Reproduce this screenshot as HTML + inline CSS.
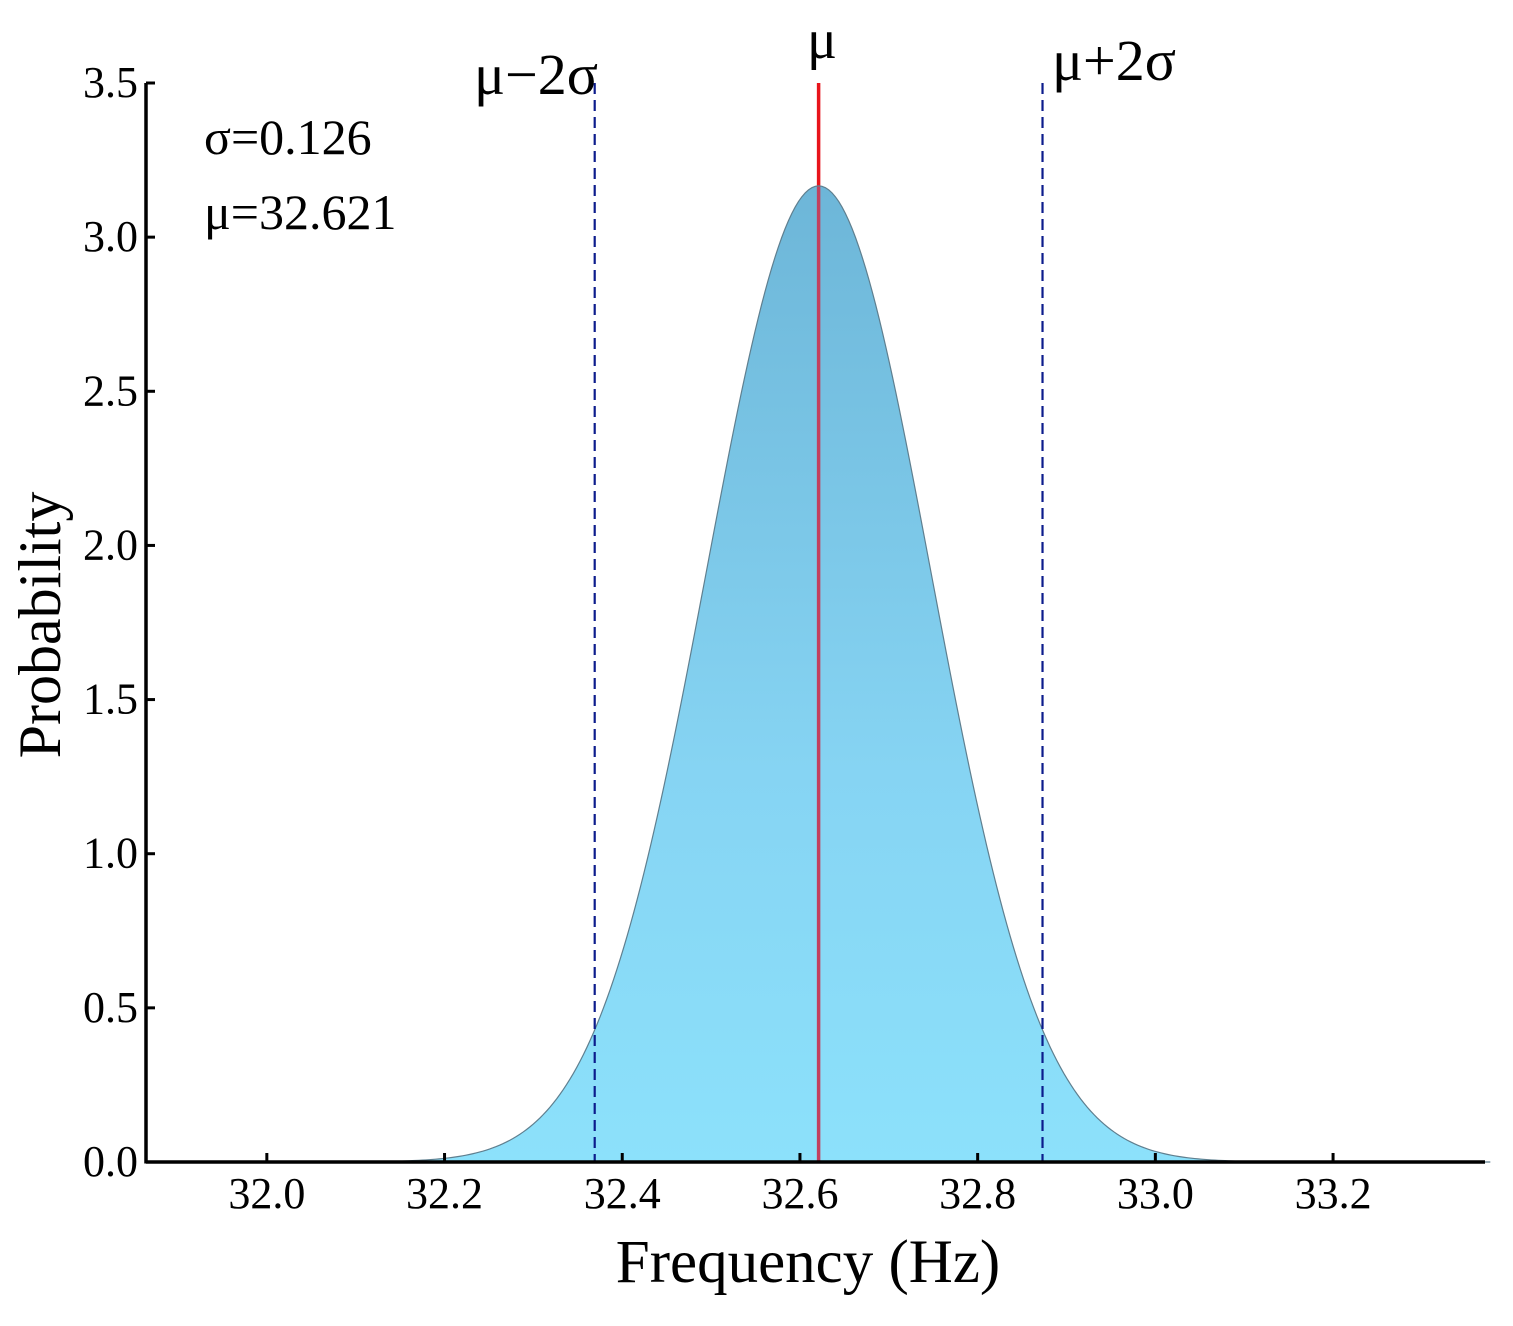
<!DOCTYPE html>
<html><head><meta charset="utf-8"><style>
html,body{margin:0;padding:0;background:#fff;}
svg text{font-family:"Liberation Serif",serif;fill:#000;}
</style></head><body>
<svg id="chart" width="1513" height="1321" viewBox="0 0 1513 1321" xmlns="http://www.w3.org/2000/svg">
<defs>
<linearGradient id="fillGrad" x1="0" y1="0" x2="0" y2="1">
<stop offset="0" stop-color="#6db6d8"/>
<stop offset="0.6" stop-color="#86d4f3"/>
<stop offset="1" stop-color="#8ce1fb"/>
</linearGradient>
</defs>
<g id="plot"></g>
</svg>
<script>
const distMu = [32.621];
const distSigma = [0.126];
const xTicks = [32.0, 32.2, 32.4, 32.6, 32.8, 33.0, 33.2];
const yTicks = [0.0, 0.5, 1.0, 1.5, 2.0, 2.5, 3.0, 3.5];
const xRange = [31.864, 33.371];
const yRange = [0, 3.5];

const NS = 'http://www.w3.org/2000/svg';
const g = document.getElementById('plot');
const L = 146, R = 1485, T = 83, B = 1162;
function xs(v){ return L + (v - xRange[0]) / (xRange[1] - xRange[0]) * (R - L); }
function ys(v){ return B - (v - yRange[0]) / (yRange[1] - yRange[0]) * (B - T); }
function mk(tag, attrs, parent){
  const e = document.createElementNS(NS, tag);
  for (const k in attrs) e.setAttribute(k, attrs[k]);
  (parent || g).appendChild(e);
  return e;
}
const mu = distMu[0], sd = distSigma[0];
function pdf(x){ return Math.exp(-0.5 * ((x - mu) / sd) ** 2) / (sd * Math.sqrt(2 * Math.PI)); }

const ml = mk('line', {x1: xs(mu), x2: xs(mu), y1: T, y2: B, stroke: '#e8141b', 'stroke-width': 3.5});



let d = '';
const x0 = mu - 6 * sd, x1 = mu + 6 * sd, n = 400;
for (let i = 0; i <= n; i++) {
  const x = x0 + (x1 - x0) * i / n;
  d += (i ? 'L' : 'M') + xs(x).toFixed(2) + ',' + ys(pdf(x)).toFixed(2);
}
const area = mk('path', {d: d + 'L' + xs(x1) + ',' + B + 'L' + xs(x0) + ',' + B + 'Z', fill: 'url(#fillGrad)', stroke: 'none'});


const ml2 = mk('line', {x1: xs(mu), x2: xs(mu), y1: ys(pdf(mu)), y2: B, stroke: '#c2405e', 'stroke-width': 3.5});


const curve = mk('path', {d: d, fill: 'none', stroke: '#5f7f8f', 'stroke-width': 1.2});



[-2, 2].forEach(k => {
  const l = mk('line', {x1: xs(mu + k * sd), x2: xs(mu + k * sd), y1: T, y2: B, stroke: '#0c1c8c', 'stroke-width': 2.2, 'stroke-dasharray': '11,6'});
  
  
});

const xa = mk('line', {x1: L, x2: R, y1: B, y2: B, stroke: '#000', 'stroke-width': 3.5});


const ya = mk('line', {x1: L, x2: L, y1: T, y2: B + 1.5, stroke: '#000', 'stroke-width': 3.5});



xTicks.forEach(v => {
  const t = mk('line', {x1: xs(v), x2: xs(v), y1: B, y2: B - 9, stroke: '#000', 'stroke-width': 3});
  
  
  const tx = mk('text', {x: xs(v), y: B + 46, 'text-anchor': 'middle', 'font-size': 44});
  
  
  tx.textContent = v.toFixed(1);
});
yTicks.forEach(v => {
  const t = mk('line', {x1: L, x2: L + 9, y1: ys(v), y2: ys(v), stroke: '#000', 'stroke-width': 3});
  
  
  const tx = mk('text', {x: L - 8, y: ys(v) + 14, 'text-anchor': 'end', 'font-size': 44});
  
  
  tx.textContent = v.toFixed(1);
});

function label(txt, x, y, size, name, anchor){
  const t = mk('text', {x: x, y: y, 'font-size': size, 'text-anchor': anchor || 'start'});
  
  
  t.textContent = txt;
  return t;
}
label('Frequency (Hz)', 808, 1282, 61, 'x-axis-title', 'middle');
const yt = label('Probability', 0, 0, 60, 'y-axis-title', 'middle');
yt.setAttribute('transform', 'translate(60,625) rotate(-90)');
label('σ=0.126', 204, 154, 50, 'sigma-annotation');
label('μ=32.621', 204, 229, 50, 'mu-annotation');
label('μ', 822, 58, 56, 'mu-label', 'middle');
label('μ−2σ', 536, 94, 58, 'minus-2sigma-label', 'middle');
label('μ+2σ', 1114, 80, 58, 'plus-2sigma-label', 'middle');
</script>
</body></html>
